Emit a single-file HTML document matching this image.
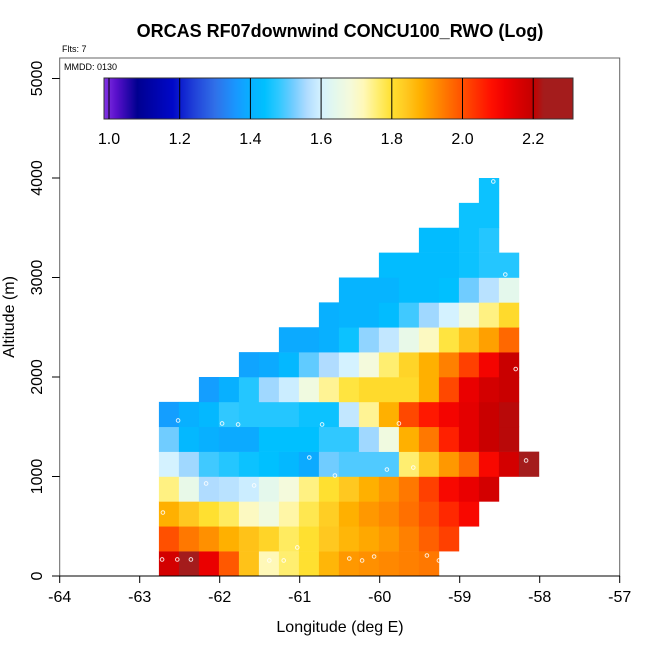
<!DOCTYPE html>
<html><head><meta charset="utf-8"><style>
html,body{margin:0;padding:0;background:#fff;}
svg{display:block;font-family:"Liberation Sans",sans-serif;}
</style></head><body>
<svg id="chart" width="650" height="650" viewBox="0 0 650 650">
<text x="340" y="37" text-anchor="middle" font-size="18" font-weight="bold">ORCAS RF07downwind CONCU100_RWO (Log)</text>
<text x="62" y="52" font-size="9">Flts: 7</text>
<g id="cells"></g>
<g id="pts"></g>
<rect x="59.7" y="58" width="560" height="518" fill="none" stroke="#666" stroke-width="1"/>
<line x1="59.7" y1="576" x2="620" y2="576" stroke="#000" stroke-width="1"/>
<text x="64" y="70" font-size="9">MMDD: 0130</text>
<g id="cbar"></g>
<g id="axes"></g>
<text x="340" y="632" text-anchor="middle" font-size="16">Longitude (deg E)</text>
<text transform="translate(14,317) rotate(-90)" text-anchor="middle" font-size="16">Altitude (m)</text>
</svg>
<script>
// ---- data ----
const rowStart = [0,0,0,0,0,0,0,2,4,6,8,9,11,13,15,16];
const row0 = [2.17,2.26,2.13,1.99,1.85,1.72,1.76,1.80,1.87,1.91,1.92,1.93,1.94,1.95];
const row1 = [2.00,1.95,1.92,1.88,1.85,1.82,1.77,1.80,1.84,1.87,1.89,1.91,1.94,1.98,2.02];
const row2 = [1.88,1.84,1.80,1.77,1.71,1.67,1.73,1.78,1.83,1.88,1.91,1.93,1.96,2.00,2.05,2.10];
const row3 = [1.75,1.65,1.56,1.57,1.59,1.64,1.68,1.75,1.80,1.84,1.88,1.91,1.95,2.02,2.10,2.13,2.17];
const row4 = [1.60,1.55,1.49,1.47,1.45,1.44,1.42,1.39,1.52,1.50,1.50,1.50,1.76,1.84,1.91,1.97,2.10,2.17,2.26];
const row5 = [1.52,1.42,1.40,1.39,1.39,1.44,1.44,1.44,1.48,1.48,1.55,1.67,1.88,1.95,2.06,2.14,2.19,2.21];
const row6 = [1.37,1.40,1.42,1.48,1.47,1.47,1.47,1.45,1.45,1.58,1.74,1.88,2.01,2.07,2.11,2.14,2.19,2.21];
const row7 = [1.37,1.40,1.47,1.55,1.59,1.67,1.74,1.79,1.81,1.81,1.81,1.88,2.01,2.13,2.17,2.19];
const row8 = [1.38,1.39,1.42,1.51,1.56,1.60,1.68,1.76,1.82,1.88,1.94,2.02,2.11,2.19];
const row9 = [1.39,1.39,1.40,1.45,1.54,1.58,1.65,1.71,1.79,1.85,1.90,1.97];
const row10 = [1.40,1.41,1.41,1.43,1.49,1.55,1.60,1.67,1.75,1.81];
const row11 = [1.41,1.41,1.41,1.43,1.43,1.44,1.52,1.57,1.64];
const row12 = [1.43,1.43,1.43,1.43,1.45,1.47,1.47];
const row13 = [1.43,1.43,1.45,1.47];
const row14 = [1.45,1.45];
const row15 = [1.45];
const rows = [row0,row1,row2,row3,row4,row5,row6,row7,row8,row9,row10,row11,row12,row13,row14,row15];
const ptLon = [-62.52,-61.97,-61.77,-60.72,-60.88,-60.56,-62.17,-61.57,-62.71,-61.03,-62.72,-62.53,-62.36,-61.38,-61.20,-60.38,-59.76,-59.91,-59.58,-58.17,-60.22,-60.07,-59.41,-59.26,-58.58,-58.43,-58.30];
const ptAlt = [1563,1533,1523,1523,1191,1010,930,910,638,287,166,166,166,156,156,176,1533,1070,1090,1161,156,196,206,156,3965,3030,2080];
const xTicks = [-64,-63,-62,-61,-60,-59,-58,-57];
const yTicks = [0,1000,2000,3000,4000,5000];
const cbTicks = [1.0,1.2,1.4,1.6,1.8,2.0,2.2];
// ---- scales ----
const lon0 = -62.76, dLon = 0.25, dAlt = 250;
const xs = lon => 59.7 + (lon + 64) * 80;
const ys = alt => 576 - alt * 0.0995;
const cbX = v => 109 + (v - 1.0) * 353.5;
const stops = [[0.98,"#8a3ae8"],[1.02,"#5a10cc"],[1.08,"#000090"],[1.18,"#0008c8"],[1.24,"#2040d8"],[1.30,"#3070e8"],[1.36,"#1898ff"],[1.40,"#08b0ff"],[1.44,"#00c0ff"],[1.48,"#30c8ff"],[1.52,"#70ccff"],[1.56,"#b0dcff"],[1.60,"#d4f2ff"],[1.64,"#e4f8ec"],[1.68,"#f4fadc"],[1.72,"#fff8b8"],[1.76,"#ffee70"],[1.80,"#ffe030"],[1.84,"#ffc820"],[1.88,"#ffb000"],[1.92,"#ff9000"],[1.96,"#ff7000"],[2.00,"#ff5000"],[2.04,"#ff3000"],[2.08,"#ff1000"],[2.12,"#f00000"],[2.16,"#d80000"],[2.20,"#c40000"],[2.23,"#a41c1c"],[2.32,"#a41c1c"]];
function hex(h){return [1,3,5].map(i=>parseInt(h.substr(i,2),16));}
function cmap(v){
  if(v<=stops[0][0]) return stops[0][1];
  for(let i=1;i<stops.length;i++){
    if(v<=stops[i][0]){
      const a=hex(stops[i-1][1]),b=hex(stops[i][1]),t=(v-stops[i-1][0])/(stops[i][0]-stops[i-1][0]);
      return "rgb("+a.map((c,k)=>Math.round(c+(b[k]-c)*t)).join(",")+")";
    }
  }
  return stops[stops.length-1][1];
}
const NS="http://www.w3.org/2000/svg";
function mk(tag,attrs,parent){const e=document.createElementNS(NS,tag);for(const k in attrs)e.setAttribute(k,attrs[k]);parent.appendChild(e);return e;}
// ---- cells ----
const gc=document.getElementById("cells");
rows.forEach((r,j)=>{
  r.forEach((v,i)=>{
    const c=rowStart[j]+i;
    const x1=xs(lon0+c*dLon), x2=xs(lon0+(c+1)*dLon);
    const y1=ys((j+1)*dAlt), y2=ys(j*dAlt);
    const e=mk("rect",{x:x1,y:y1,width:x2-x1+0.3,height:y2-y1+0.3,fill:cmap(v)},gc);
    
    
  });
});
// ---- points ----
const gp=document.getElementById("pts");
ptLon.forEach((lo,i)=>{
  const e=mk("circle",{cx:xs(lo),cy:ys(ptAlt[i]),r:1.8,fill:"none",stroke:"#fff",'stroke-opacity':0.85,'stroke-width':1},gp);
  
  
});
// ---- colorbar ----
const gb=document.getElementById("cbar");
for(let x=104;x<573;x++){
  const e=mk("rect",{x:x,y:78,width:1.2,height:41,fill:cmap(1.0+(x+0.5-109)/353.5)},gb);
  
  
}
const fr=mk("rect",{x:104,y:78,width:469,height:41,fill:"none",stroke:"#333",'stroke-width':1},gb);


cbTicks.forEach(v=>{
  const l=mk("line",{x1:cbX(v),y1:78,x2:cbX(v),y2:119,stroke:"#000",'stroke-width':1},gb);
  
  
  const t=mk("text",{x:cbX(v),y:144,'text-anchor':'middle','font-size':16},gb);
  t.textContent=v.toFixed(1);
  
  
});
// ---- axes ----
const ga=document.getElementById("axes");
xTicks.forEach(v=>{
  const l=mk("line",{x1:xs(v),y1:576,x2:xs(v),y2:583,stroke:"#000"},ga);
  
  
  const t=mk("text",{x:xs(v),y:602,'text-anchor':'middle','font-size':16},ga);
  t.textContent=String(v);
  
  
});
yTicks.forEach(v=>{
  const l=mk("line",{x1:52,y1:ys(v),x2:59.7,y2:ys(v),stroke:"#000"},ga);
  
  
  const t=mk("text",{transform:"translate(42,"+ys(v)+") rotate(-90)",'text-anchor':'middle','font-size':16},ga);
  t.textContent=String(v);
  
  
});
</script>
</body></html>
